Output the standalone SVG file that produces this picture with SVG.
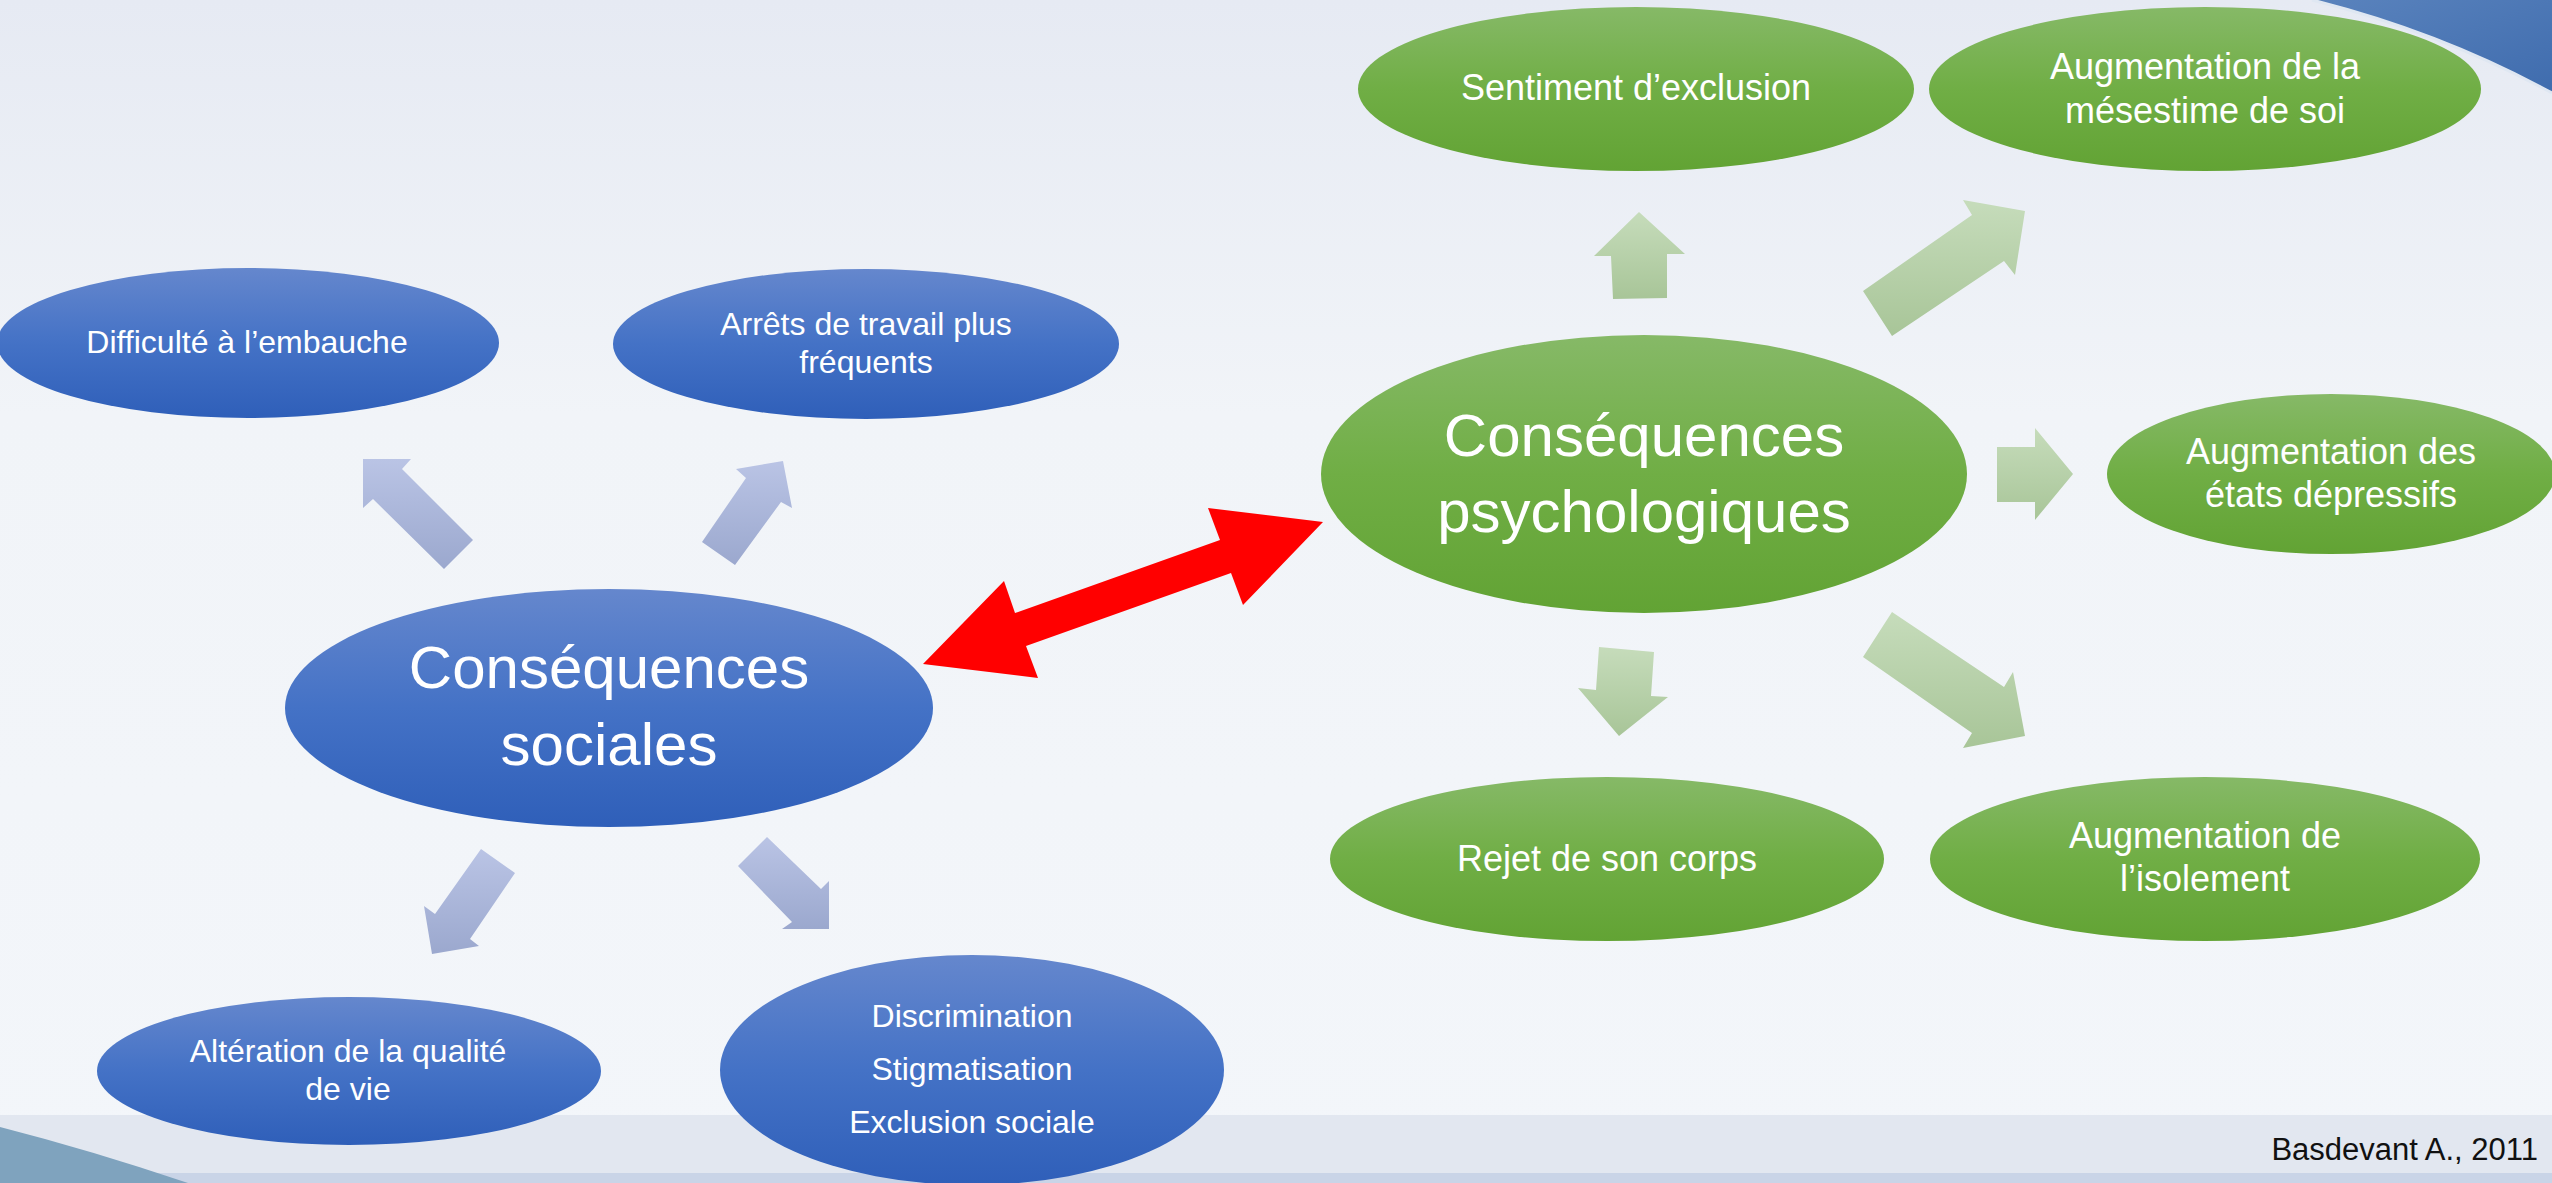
<svg xmlns="http://www.w3.org/2000/svg" width="2552" height="1183" viewBox="0 0 2552 1183">
  <defs>
    <linearGradient id="bg" x1="0" y1="0" x2="0" y2="1">
      <stop offset="0" stop-color="#e6eaf3"/>
      <stop offset="0.35" stop-color="#f1f4f8"/>
      <stop offset="1" stop-color="#f3f6fa"/>
    </linearGradient>
    <linearGradient id="blueFill" x1="0" y1="0" x2="0" y2="1">
      <stop offset="0" stop-color="#6587cd"/>
      <stop offset="0.5" stop-color="#4472c6"/>
      <stop offset="1" stop-color="#2f5fb9"/>
    </linearGradient>
    <linearGradient id="greenFill" x1="0" y1="0" x2="0" y2="1">
      <stop offset="0" stop-color="#86b967"/>
      <stop offset="0.5" stop-color="#70ae45"/>
      <stop offset="1" stop-color="#62a334"/>
    </linearGradient>
    <linearGradient id="blueArrow" x1="0" y1="0" x2="0" y2="1">
      <stop offset="0" stop-color="#bac4e5"/>
      <stop offset="1" stop-color="#9ba8ce"/>
    </linearGradient>
    <linearGradient id="greenArrow" x1="0" y1="0" x2="0" y2="1">
      <stop offset="0" stop-color="#c6dcbb"/>
      <stop offset="1" stop-color="#a8c598"/>
    </linearGradient>
    <linearGradient id="corner" x1="0" y1="0" x2="1" y2="1">
      <stop offset="0" stop-color="#5a83bd"/>
      <stop offset="1" stop-color="#3f6cae"/>
    </linearGradient>
  </defs>
  <style>
    .t { font-family: "Liberation Sans", Arial, sans-serif; fill: #ffffff; text-anchor: middle; }
    .s { font-size: 32px; }
    .g { font-size: 36px; }
    .big { font-size: 60px; }
    .blue { fill: url(#blueFill); }
    .green { fill: url(#greenFill); }
    .ba { fill: url(#blueArrow); }
    .ga { fill: url(#greenArrow); }
    .red { fill: #ff0000; }
  </style>

  <!-- background -->
  <rect x="0" y="0" width="2552" height="1183" fill="url(#bg)"/>
  <rect x="0" y="1115" width="2552" height="58" fill="#e2e7f0"/>
  <rect x="0" y="1173" width="2552" height="10" fill="#c9d4e7"/>
  <path d="M0,1127 Q90,1150 188,1183 L0,1183 Z" fill="#7fa3be"/>
  <path d="M2312,0 Q2440,32 2552,93 L2552,0 Z" fill="url(#corner)"/>
  <path d="M2312,0 Q2440,32 2552,93" fill="none" stroke="#dfe7f2" stroke-width="3"/>

  <!-- connectors -->
  <g id="connectors">
    <polygon class="ba" points="363,459 411,459 402,469 473,540 444,569 373,499 363,508"/>
    <polygon class="ba" points="736,469 783,461 792,508 781,502 735,565 702,542 746,478"/>
    <polygon class="ba" points="481,849 515,873 470,939 479,946 432,954 424,906 435,914"/>
    <polygon class="ba" points="767,837 738,866 792,922 782,929 829,929 829,881 821,889"/>
    <polygon class="red" points="923,664 1004,581 1015,613 1220,540 1208,508 1323,522 1243,605 1231,573 1026,646 1038,678"/>
    <polygon class="ga" points="1639,212 1685,254 1667,254 1667,298 1613,299 1611,256 1594,256"/>
    <polygon class="ga" points="1963,200 2025,211 2015,275 2004,261 1892,336 1863,291 1972,215"/>
    <polygon class="ga" points="1997,447 2035,447 2035,428 2073,474 2035,520 2035,502 1997,502"/>
    <polygon class="ga" points="1599,647 1654,652 1651,696 1668,697 1619,736 1578,688 1596,690"/>
    <polygon class="ga" points="1892,612 2004,687 2013,672 2025,736 1963,748 1972,733 1863,657"/>
  </g>

  <!-- social consequences (blue) -->
  <g id="node-sociales">
    <ellipse class="blue" cx="609" cy="708" rx="324" ry="119"/>
    <text class="t big" x="609" y="688">Conséquences</text>
    <text class="t big" x="609" y="765">sociales</text>
  </g>
  <g id="node-embauche">
    <ellipse class="blue" cx="248" cy="343" rx="251" ry="75"/>
    <text class="t s" x="247" y="353">Difficulté à l’embauche</text>
  </g>
  <g id="node-arrets">
    <ellipse class="blue" cx="866" cy="344" rx="253" ry="75"/>
    <text class="t s" x="866" y="335">Arrêts de travail plus</text>
    <text class="t s" x="866" y="373">fréquents</text>
  </g>
  <g id="node-alteration">
    <ellipse class="blue" cx="349" cy="1071" rx="252" ry="74"/>
    <text class="t s" x="348" y="1062">Altération de la qualité</text>
    <text class="t s" x="348" y="1100">de vie</text>
  </g>
  <g id="node-discrimination">
    <ellipse class="blue" cx="972" cy="1070" rx="252" ry="115"/>
    <text class="t s" x="972" y="1027">Discrimination</text>
    <text class="t s" x="972" y="1080">Stigmatisation</text>
    <text class="t s" x="972" y="1133">Exclusion sociale</text>
  </g>

  <!-- psychological consequences (green) -->
  <g id="node-psychologiques">
    <ellipse class="green" cx="1644" cy="474" rx="323" ry="139"/>
    <text class="t big" x="1644" y="456">Conséquences</text>
    <text class="t big" x="1644" y="532">psychologiques</text>
  </g>
  <g id="node-exclusion">
    <ellipse class="green" cx="1636" cy="89" rx="278" ry="82"/>
    <text class="t g" x="1636" y="100">Sentiment d’exclusion</text>
  </g>
  <g id="node-mesestime">
    <ellipse class="green" cx="2205" cy="89" rx="276" ry="82"/>
    <text class="t g" x="2205" y="79">Augmentation de la</text>
    <text class="t g" x="2205" y="123">mésestime de soi</text>
  </g>
  <g id="node-depressifs">
    <ellipse class="green" cx="2331" cy="474" rx="224" ry="80"/>
    <text class="t g" x="2331" y="464">Augmentation des</text>
    <text class="t g" x="2331" y="507">états dépressifs</text>
  </g>
  <g id="node-rejet">
    <ellipse class="green" cx="1607" cy="859" rx="277" ry="82"/>
    <text class="t g" x="1607" y="871">Rejet de son corps</text>
  </g>
  <g id="node-isolement">
    <ellipse class="green" cx="2205" cy="859" rx="275" ry="82"/>
    <text class="t g" x="2205" y="848">Augmentation de</text>
    <text class="t g" x="2205" y="891">l’isolement</text>
  </g>

  <text x="2538" y="1160" font-family="Liberation Sans, Arial, sans-serif" font-size="31" fill="#111111" text-anchor="end">Basdevant A., 2011</text>
</svg>
